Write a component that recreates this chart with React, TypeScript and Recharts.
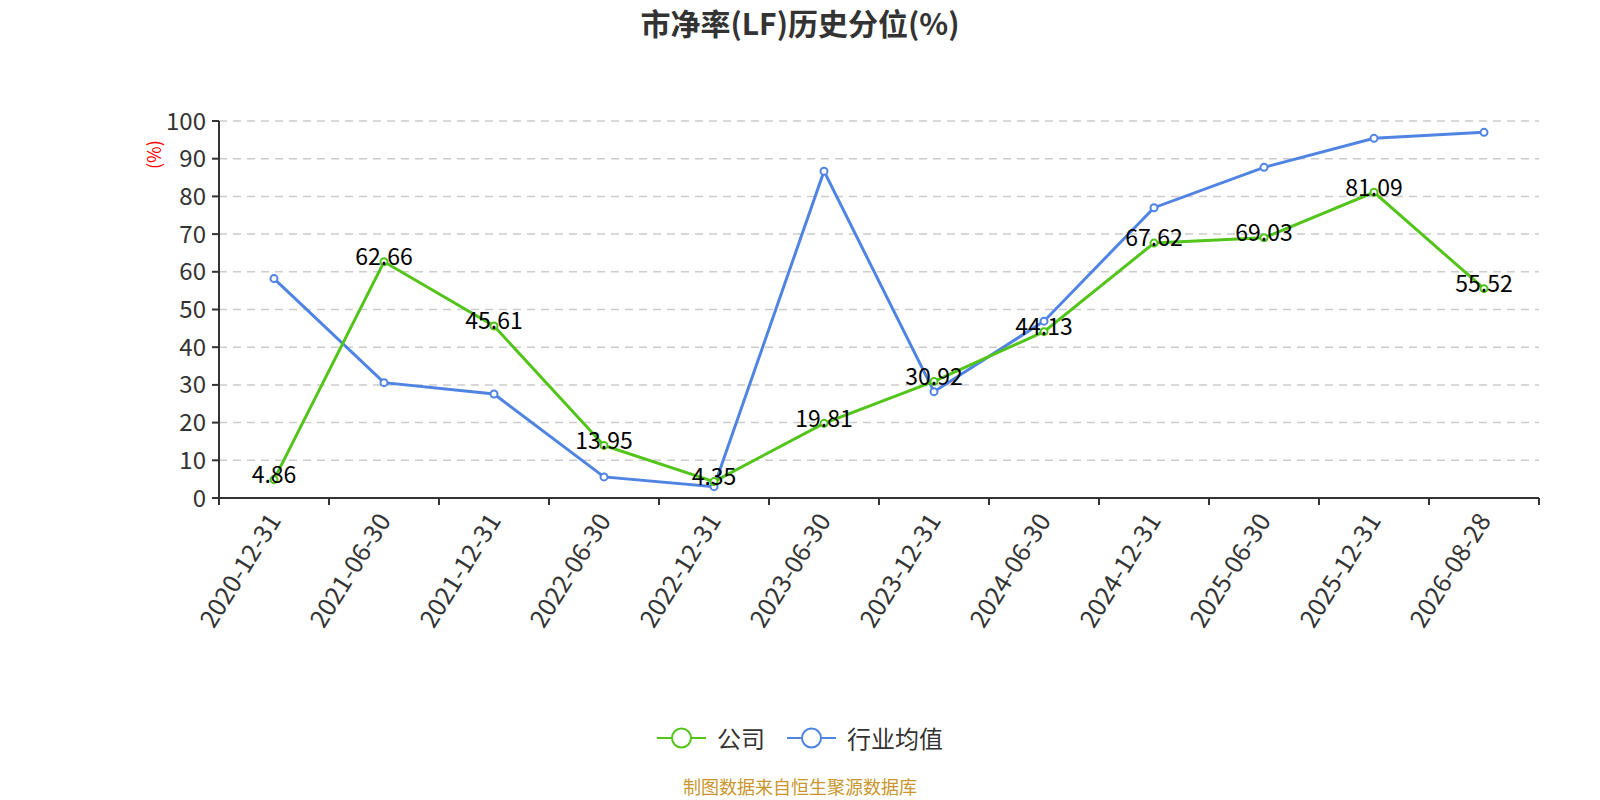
import React from "react";
import { CartesianGrid, LabelList, Line, LineChart, XAxis, YAxis } from "recharts";

const dates = [
  "2020-12-31", "2021-06-30", "2021-12-31", "2022-06-30", "2022-12-31", "2023-06-30",
  "2023-12-31", "2024-06-30", "2024-12-31", "2025-06-30", "2025-12-31", "2026-08-28"
];
const company = [4.86, 62.66, 45.61, 13.95, 4.35, 19.81, 30.92, 44.13, 67.62, 69.03, 81.09, 55.52];
const industry = [58.2, 30.6, 27.6, 5.6, 3.0, 86.7, 28.2, 46.9, 77.0, 87.7, 95.4, 97.0];
const yTicks = [0, 10, 20, 30, 40, 50, 60, 70, 80, 90, 100];

const data = dates.map((d, i) => ({ date: d, company: company[i], industry: industry[i] }));

if (typeof document !== "undefined") {
  document.body.style.margin = "0";
  document.body.style.overflow = "hidden";
}

const FONT = '"Noto Sans CJK SC", "Noto Sans", sans-serif';
const GREEN = "#52c41a";
const BLUE = "#4f84e3";
const BAND = 1320 / dates.length;

function XTick(props: any) {
  const { x, y, payload, index } = props;
  return (
    <g>
      <line x1={x - BAND / 2} y1={y - 8} x2={x - BAND / 2} y2={y - 1} stroke="#333" strokeWidth={2} />
      {index === dates.length - 1 && (
        <line x1={x + BAND / 2} y1={y - 8} x2={x + BAND / 2} y2={y - 1} stroke="#333" strokeWidth={2} />
      )}
      <text
        x={x + 2}
        y={y + 11}
        textAnchor="end"
        dominantBaseline="middle"
        transform={`rotate(-58, ${x + 2}, ${y + 11})`}
        fill="#333"
        fontSize={25}
        fontFamily={FONT}
      >
        {payload.value}
      </text>
    </g>
  );
}

function ValueLabel(props: any) {
  const { x, y, value } = props;
  return (
    <text x={x} y={y - 3} textAnchor="middle" dominantBaseline="middle" fill="#000" fontSize={23} fontFamily={FONT}>
      {value.toFixed(2)}
    </text>
  );
}

function LegendItem({ color, label, gap }: { color: string; label: string; gap: number }) {
  return (
    <div style={{ display: "flex", alignItems: "center", marginRight: gap }}>
      <svg width={49} height={26} style={{ display: "block" }}>
        <line x1={0} y1={13} x2={49} y2={13} stroke={color} strokeWidth={2} />
        <circle cx={24.5} cy={13} r={9.5} fill="#fff" stroke={color} strokeWidth={2} />
      </svg>
      <span style={{ marginLeft: 11, fontSize: 24, lineHeight: "26px", color: "#333" }}>{label}</span>
    </div>
  );
}

export default function App() {
  return (
    <div style={{ position: "relative", width: 1600, height: 800, overflow: "hidden", background: "#fff", fontFamily: FONT }}>
      <div style={{ position: "absolute", top: 0, left: 0, width: 1600, textAlign: "center", fontSize: 30, fontWeight: "bold", color: "#333" }}>
        市净率(LF)历史分位(%)
      </div>
      <LineChart width={1600} height={800} data={data} margin={{ top: 121, right: 61, bottom: 172, left: 0 }}>
        <CartesianGrid horizontal vertical={false} stroke="#ccc" strokeDasharray="8 6" strokeWidth={1.5} />
        <XAxis
          dataKey="date"
          height={130}
          interval={0}
          tickLine={false}
          padding={{ left: BAND / 2, right: BAND / 2 }}
          tick={<XTick />}
          axisLine={{ stroke: "#333", strokeWidth: 2 }}
        />
        <YAxis
          width={219}
          domain={[0, 100]}
          ticks={yTicks}
          interval={0}
          tickSize={7}
          tickMargin={6}
          axisLine={{ stroke: "#333", strokeWidth: 2 }}
          tickLine={{ stroke: "#333", strokeWidth: 2 }}
          tick={{ fill: "#333", fontSize: 24, fontFamily: FONT }}
          label={{
            value: "(%)",
            angle: -90,
            position: "insideTopLeft",
            offset: 0,
            fill: "#f00",
            fontSize: 18,
            dx: 148,
            dy: 48
          }}
        />
        <Line
          dataKey="industry"
          stroke={BLUE}
          strokeWidth={3}
          dot={{ r: 3.5, fill: "#fff", stroke: BLUE, strokeWidth: 2 }}
          isAnimationActive={false}
        />
        <Line
          dataKey="company"
          stroke={GREEN}
          strokeWidth={3}
          dot={{ r: 3.5, fill: "#fff", stroke: GREEN, strokeWidth: 2 }}
          isAnimationActive={false}
        >
          <LabelList dataKey="company" content={<ValueLabel />} />
        </Line>
      </LineChart>
      <div style={{ position: "absolute", top: 725, left: 0, width: 1600, display: "flex", justifyContent: "center" }}>
        <LegendItem color={GREEN} label="公司" gap={22} />
        <LegendItem color={BLUE} label="行业均值" gap={0} />
      </div>
      <div style={{ position: "absolute", top: 775, left: 0, width: 1600, textAlign: "center", fontSize: 18, lineHeight: "22px", color: "#c8962c" }}>
        制图数据来自恒生聚源数据库
      </div>
    </div>
  );
}
